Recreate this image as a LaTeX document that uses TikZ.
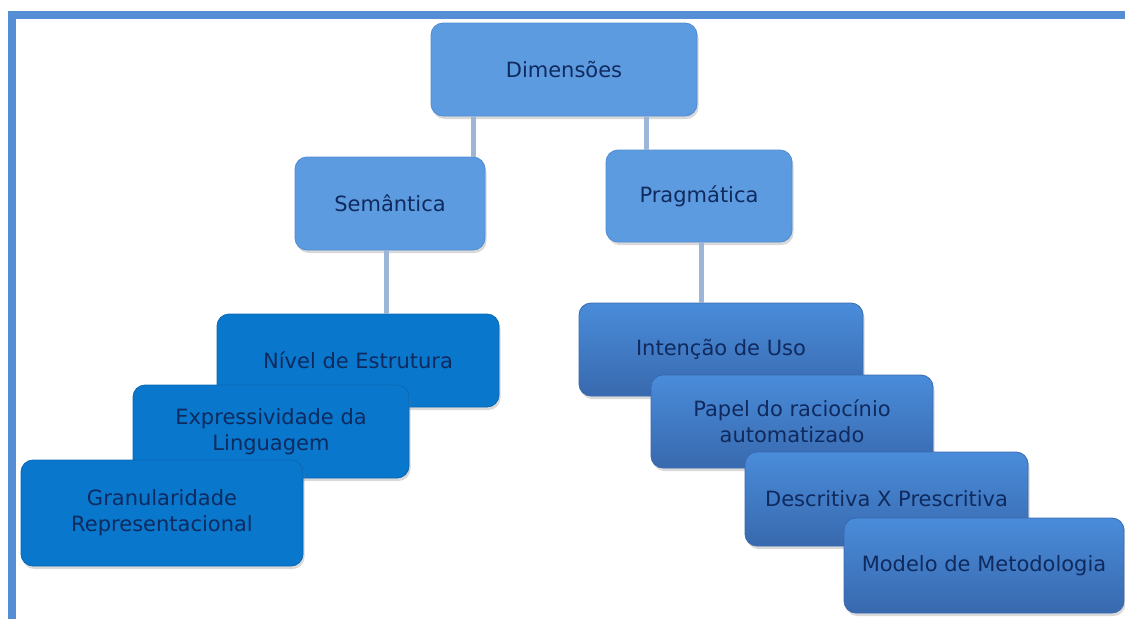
\documentclass[tikz,border=0pt]{standalone}
\usepackage{fontspec}
\setmainfont{DejaVu Sans}
\usetikzlibrary{shadows}
\definecolor{moldura}{HTML}{558ED5}
\definecolor{ligacao}{HTML}{9DB6D8}
\definecolor{texto}{HTML}{0F2A5E}
\definecolor{claro}{HTML}{5D9BE0}
\definecolor{clarob}{HTML}{4F8BD2}
\definecolor{forte}{HTML}{0877CC}
\definecolor{forteb}{HTML}{0A68B4}
\definecolor{medioa}{HTML}{4A8CDA}
\definecolor{mediob}{HTML}{3869AE}
\begin{document}
\begin{tikzpicture}[x=1pt, y=-1pt,
		caixa/.style={rounded corners=12pt, minimum height=93pt, inner sep=0pt, align=center,
			text=texto, font=\fontsize{21}{26}\selectfont,
			drop shadow={shadow xshift=1.5pt, shadow yshift=-3pt, opacity=0.3}},
		topo/.style={caixa, fill=claro, draw=clarob, line width=0.8pt},
		esq/.style={caixa, fill=forte, draw=forteb, line width=0.8pt},
		dir/.style={caixa, top color=medioa, bottom color=mediob, draw=mediob, line width=0.8pt},
		ligacao/.style={draw=ligacao, line width=5pt}]
		\useasboundingbox (0,0) rectangle (1125,619);

		% moldura
		\draw [moldura, line width=8pt, line join=miter] (12,619) -- (12,15) -- (1125,15);

		% dimensoes
		\node [topo, minimum width=266pt] (dim) at (564,69.5) {Dimensões};
		\node [topo, minimum width=190pt] (sem) at (390,203.5) {Semântica};
		\node [topo, minimum width=186pt, minimum height=92pt] (prag) at (699,196) {Pragmática};

		% semantica
		\node [esq, minimum width=282pt] (niv) at (358,360.5) {Nível de Estrutura};
		\node [esq, minimum width=276pt] (expr) at (271,431.5) {Expressividade da\\Linguagem};
		\node [esq, minimum width=282pt, minimum height=106pt] (gran) at (162,513) {Granularidade\\Representacional};

		% pragmatica
		\node [dir, minimum width=284pt] (int) at (721,349.5) {Intenção de Uso};
		\node [dir, minimum width=282pt] (pap) at (792,421.5) {Papel do raciocínio\\automatizado};
		\node [dir, minimum width=283pt, minimum height=94pt] (desc) at (886.5,499) {Descritiva X Prescritiva};
		\node [dir, minimum width=280pt, minimum height=95pt] (mod) at (984,565.5) {Modelo de Metodologia};

		% ligacoes
		\draw [ligacao] ([xshift=-12pt]sem.north east) -- ([xshift=-12pt]sem.north east |- dim.south);
		\draw [ligacao] ([xshift=41pt]prag.north west) -- ([xshift=41pt]prag.north west |- dim.south);
		\draw [ligacao] ([xshift=-4pt]sem.south) -- ([xshift=-4pt]sem.south |- niv.north);
		\draw [ligacao] ([xshift=2pt]prag.south) -- ([xshift=2pt]prag.south |- int.north);
\end{tikzpicture}
\end{document}
